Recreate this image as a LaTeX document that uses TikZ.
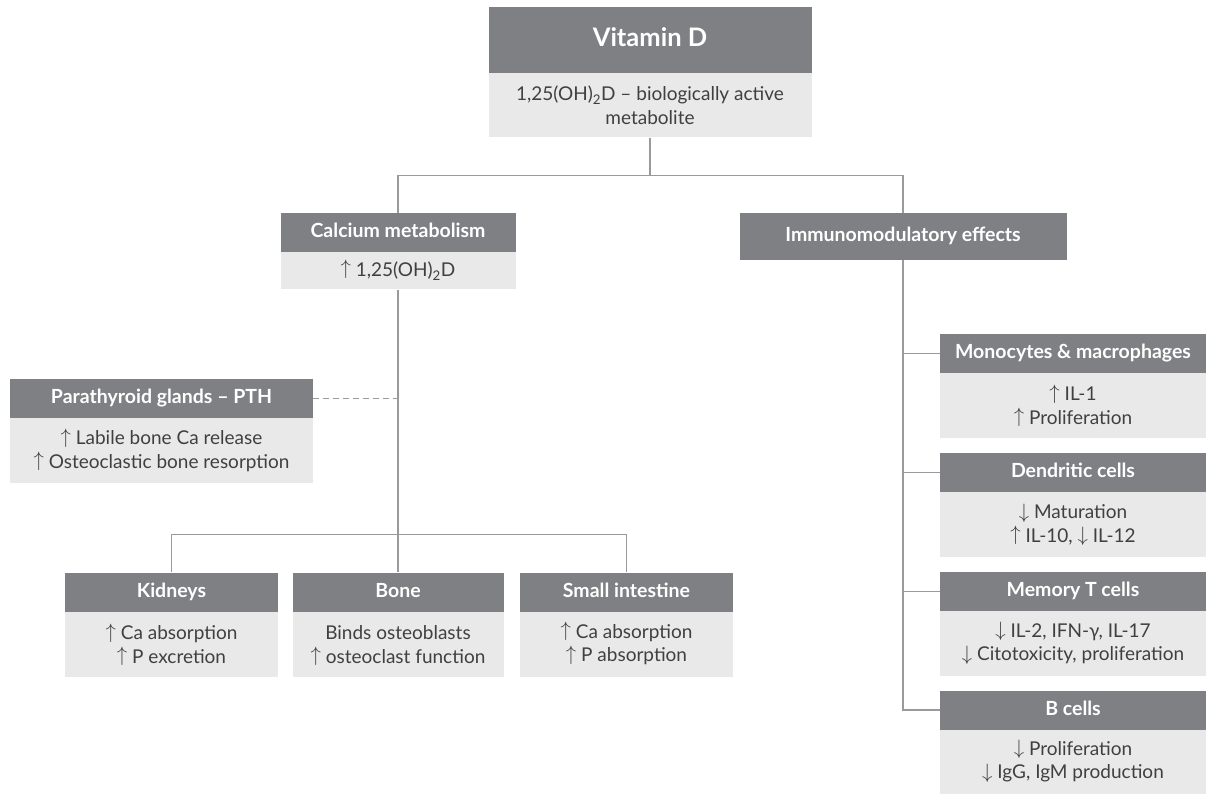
\documentclass[tikz,border=0pt]{standalone}
\usepackage{fontspec}
\setmainfont{Lato}
\usetikzlibrary{positioning}
\definecolor{headgray}{HTML}{7F8084}
\definecolor{bodygray}{HTML}{E8E9E8}
\definecolor{textgray}{HTML}{404040}
\definecolor{linegray}{HTML}{9A9A9A}
\newcommand{\incr}{\smash{\raisebox{1.5pt}{\fontsize{21}{21}\selectfont$\uparrow$}}\ }
\newcommand{\decr}{\smash{\raisebox{0.5pt}{\fontsize{21}{21}\selectfont$\downarrow$}}\ }
\begin{document}
\begin{tikzpicture}[x=1pt, y=-1pt,
        every node/.append style={inner sep=0pt, align=center},
        head/.style={fill=headgray, text=white, font=\bfseries\fontsize{19.5}{22}\selectfont, minimum height=39pt, text height=14pt, text depth=4pt},
        body/.style={fill=bodygray, text=textgray, font=\fontsize{19}{23.5}\selectfont, minimum height=65pt, below=0pt of #1},
        link/.style={draw=linegray, line width=1.3pt}]
      \useasboundingbox (0,0) rectangle (1216,793);
      % top
      \node (vith) [head, minimum width=323pt, minimum height=66pt, text height=18pt, text depth=5pt, font=\bfseries\fontsize{25.5}{30}\selectfont] at (650,40) {Vitamin D};
      \node (vitb) [body=vith, minimum width=323pt, minimum height=64pt] {1,25(OH)\textsubscript{2}D – biologically active\\metabolite};
      % calcium side
      \node (calh) [head, minimum width=235pt] at (398,232.5) {Calcium metabolism};
      \node (calb) [body=calh, minimum width=235pt, minimum height=37pt] {\incr 1,25(OH)\textsubscript{2}D};
      \node (parh) [head, minimum width=303pt] at (161.5,398.5) {Parathyroid glands – PTH};
      \node (parb) [body=parh, minimum width=303pt] {\incr Labile bone Ca release\\\incr Osteoclastic bone resorption};
      \node (kidh) [head, minimum width=213pt] at (171.5,592) {Kidneys};
      \node (kidb) [body=kidh, minimum width=213pt] {\incr Ca absorption\\\incr P excretion};
      \node (boneh) [head, minimum width=211pt] at (398,592) {Bone};
      \node (boneb) [body=boneh, minimum width=211pt] {Binds osteoblasts\\\incr osteoclast function};
      \node (inth) [head, minimum width=213pt] at (626.5,592) {Small intestine};
      \node (intb) [body=inth, minimum width=213pt] {\incr Ca absorption\\\incr P absorption};
      % immune side
      \node (immh) [head, minimum width=327pt, minimum height=47pt] at (903,236.5) {Immunomodulatory effects};
      \node (monh) [head, minimum width=266pt] at (1073,353.5) {Monocytes \& macrophages};
      \node (monb) [body=monh, minimum width=266pt] {\incr IL-1\\\incr Proliferation};
      \node (denh) [head, minimum width=266pt] at (1073,472.5) {Dendritic cells};
      \node (denb) [body=denh, minimum width=266pt] {\decr Maturation\\\incr IL-10, \decr IL-12};
      \node (memh) [head, minimum width=266pt] at (1073,591.5) {Memory T cells};
      \node (memb) [body=memh, minimum width=266pt] {\decr IL-2, IFN-γ, IL-17\\\decr Citotoxicity, proliferation};
      \node (bcelh) [head, minimum width=266pt] at (1073,710) {B cells};
      \node (bcelb) [body=bcelh, minimum width=266pt, minimum height=64pt] {\decr Proliferation\\\decr IgG, IgM production};
      % connectors
      \draw[link] (vitb.south) -- ++(0,38) -| (calh.north);
      \draw[link] (vitb.south) -- ++(0,38) -| (immh.north);
      \draw[link] (calb.south) -- (boneh.north);
      \draw[link] (kidh.north) -- ++(0,-38) -| (inth.north);
      \draw[link, dash pattern=on 6pt off 4pt] (parh.east) -- (parh.east -| calb.south);
      \foreach \cell in {monh, denh, memh, bcelh}
        \draw[link] (immh.south) |- (\cell.west);
    \end{tikzpicture}
\end{document}
